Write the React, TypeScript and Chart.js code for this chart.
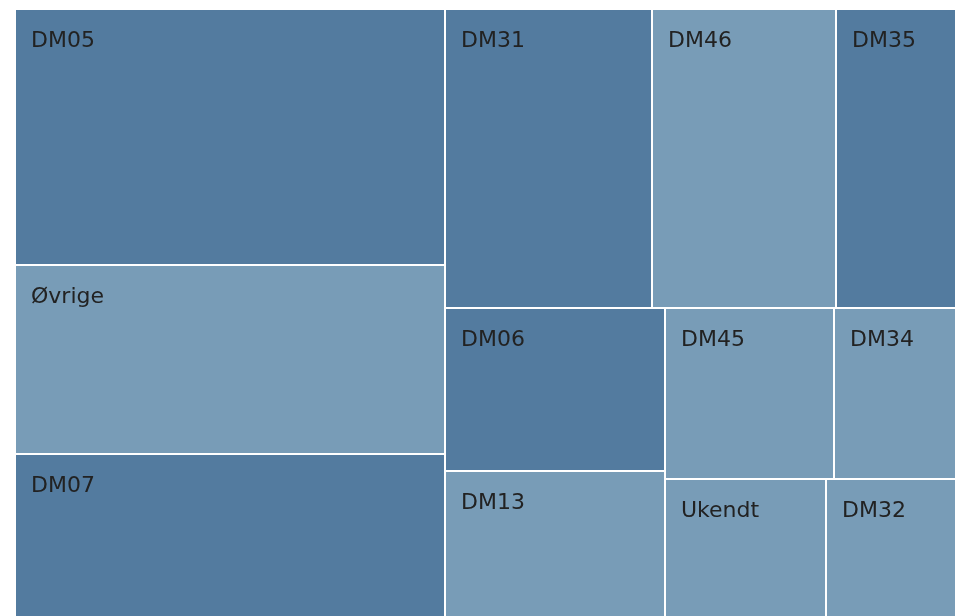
import React, { useEffect, useRef } from "react";
import { Chart, registerables } from "chart.js";

Chart.register(...registerables);

// ---- data ----
const labels = ["DM05", "Øvrige", "DM07", "DM31", "DM46", "DM35", "DM06", "DM13", "DM45", "DM34", "Ukendt", "DM32"];
const values = [1101, 813, 701, 619, 550, 359, 359, 321, 289, 209, 222, 179];
const shadeGroup = [0, 1, 0, 0, 1, 0, 0, 1, 1, 1, 1, 1];
const stripSizes = [3, 3, 2, 2, 2];
const palette = ["#537b9f", "#789cb7"];

type Rect = { x0: number; y0: number; x1: number; y1: number };

// Strip-based squarified layout: each strip is laid along the shorter side of
// the remaining rectangle; the final strip is split along the longer side.
function layoutStrips(vals: number[], sizes: number[], w: number, h: number): Rect[] {
  const out: Rect[] = [];
  let x0 = 0, y0 = 0, x1 = w, y1 = h;
  let remaining = vals.reduce((a, b) => a + b, 0);
  let idx = 0;
  sizes.forEach((n, si) => {
    const group = vals.slice(idx, idx + n);
    const sum = group.reduce((a, b) => a + b, 0);
    const dx = x1 - x0, dy = y1 - y0;
    const last = si === sizes.length - 1;
    if (!last && dx >= dy) {
      // column at left, children stacked vertically
      const cw = (dx * sum) / remaining;
      let cy = y0;
      group.forEach((v) => {
        const ch = (dy * v) / sum;
        out.push({ x0, y0: cy, x1: x0 + cw, y1: cy + ch });
        cy += ch;
      });
      x0 += cw;
    } else if (!last) {
      // row at top, children side by side
      const rh = (dy * sum) / remaining;
      let cx = x0;
      group.forEach((v) => {
        const cw = (dx * v) / sum;
        out.push({ x0: cx, y0, x1: cx + cw, y1: y0 + rh });
        cx += cw;
      });
      y0 += rh;
    } else if (dx >= dy) {
      let cx = x0;
      group.forEach((v) => {
        const cw = (dx * v) / sum;
        out.push({ x0: cx, y0, x1: cx + cw, y1 });
        cx += cw;
      });
    } else {
      let cy = y0;
      group.forEach((v) => {
        const ch = (dy * v) / sum;
        out.push({ x0, y0: cy, x1, y1: cy + ch });
        cy += ch;
      });
    }
    remaining -= sum;
    idx += n;
  });
  return out;
}

const treemapPlugin = {
  id: "treemapCells",
  afterDatasetsDraw(chart: any) {
    const { ctx, chartArea, scales } = chart;
    const aspect = chartArea.width / chartArea.height;
    const rects = layoutStrips(values, stripSizes, aspect, 1);
    ctx.save();
    rects.forEach((r, i) => {
      const px0 = Math.round(scales.x.getPixelForValue(r.x0 / aspect));
      const px1 = Math.round(scales.x.getPixelForValue(r.x1 / aspect));
      const py0 = Math.round(scales.y.getPixelForValue(r.y0));
      const py1 = Math.round(scales.y.getPixelForValue(r.y1));
      ctx.fillStyle = palette[shadeGroup[i]];
      ctx.fillRect(px0 + 1, py0 + 1, px1 - px0 - 2, py1 - py0 - 2);
      ctx.save();
      ctx.beginPath();
      ctx.rect(px0 + 1, py0 + 1, px1 - px0 - 2, py1 - py0 - 2);
      ctx.clip();
      ctx.fillStyle = "#222222";
      ctx.font = '22px "DejaVu Sans", Verdana, sans-serif';
      ctx.textAlign = "left";
      ctx.textBaseline = "alphabetic";
      ctx.fillText(labels[i], px0 + 16, py0 + 37.5);
      ctx.restore();
    });
    ctx.restore();
  },
};

export default function App() {
  const ref = useRef<HTMLCanvasElement | null>(null);
  useEffect(() => {
    if (!ref.current) return;
    const chart = new Chart(ref.current, {
      type: "scatter",
      data: { datasets: [] },
      options: {
        responsive: false,
        animation: false,
        devicePixelRatio: 1,
        layout: { padding: { left: 15, top: 9, right: 4, bottom: 3 } },
        plugins: { legend: { display: false }, tooltip: { enabled: false } },
        scales: {
          x: { type: "linear", display: false, min: 0, max: 1 },
          y: { type: "linear", display: false, min: 0, max: 1, reverse: true },
        },
      },
      plugins: [treemapPlugin],
    } as any);
    return () => chart.destroy();
  }, []);
  return (
    <div style={{ position: "fixed", left: 0, top: 0, width: 955, height: 616, overflow: "hidden", background: "#fff" }}>
      <canvas ref={ref} width={960} height={620} style={{ display: "block" }} />
    </div>
  );
}
